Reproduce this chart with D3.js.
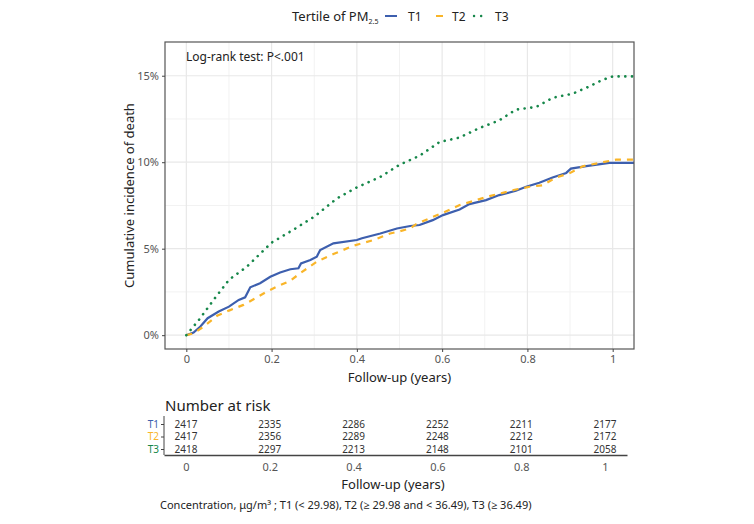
<!DOCTYPE html>
<html>
<head>
<meta charset="utf-8">
<script src="https://cdn.jsdelivr.net/npm/d3@7"></script>
<style>
  body { margin: 0; background: #fff; }
  text { font-family: "Noto Sans", "Open Sans", sans-serif; }
</style>
</head>
<body>
<svg id="chart" width="754" height="524"></svg>
<script>
// Groups and colours
const groups = ['T1', 'T2', 'T3'];
const groupColors = ['#3d5fae', '#f9b529', '#16874a'];

// Cumulative incidence (%): [years, percent]
const t1Curve = [
  [0, 0], [0.017, 0.15], [0.033, 0.5], [0.05, 0.98], [0.076, 1.37], [0.1, 1.65],
  [0.123, 2.04], [0.138, 2.19], [0.15, 2.77], [0.173, 3.0], [0.197, 3.38],
  [0.22, 3.62], [0.244, 3.81], [0.263, 3.87], [0.269, 4.15], [0.291, 4.35],
  [0.306, 4.54], [0.314, 4.92], [0.345, 5.31], [0.4, 5.5], [0.412, 5.6],
  [0.455, 5.88], [0.494, 6.17], [0.525, 6.31], [0.547, 6.37], [0.578, 6.65],
  [0.602, 6.94], [0.641, 7.27], [0.664, 7.58], [0.703, 7.81], [0.734, 8.1],
  [0.773, 8.35], [0.797, 8.58], [0.828, 8.81], [0.859, 9.12], [0.891, 9.38],
  [0.902, 9.63], [0.938, 9.77], [0.992, 9.96], [1.05, 9.96]
];
const t2Curve = [
  [0, 0], [0.017, 0.1], [0.041, 0.5], [0.072, 1.12], [0.1, 1.42], [0.134, 1.75],
  [0.166, 2.19], [0.189, 2.52], [0.213, 2.81], [0.244, 3.15], [0.267, 3.58],
  [0.306, 4.25], [0.345, 4.69], [0.392, 5.17], [0.439, 5.5], [0.478, 5.88],
  [0.5, 6.0], [0.525, 6.17], [0.539, 6.42], [0.57, 6.75], [0.602, 7.08],
  [0.641, 7.52], [0.68, 7.81], [0.711, 8.04], [0.742, 8.23], [0.773, 8.42],
  [0.805, 8.58], [0.836, 8.67], [0.867, 9.12], [0.898, 9.35], [0.93, 9.77],
  [0.969, 9.96], [1.008, 10.15], [1.05, 10.15]
];
const t3Curve = [
  [0, 0], [0.03, 0.9], [0.064, 2.04], [0.1, 3.2], [0.142, 3.96], [0.2, 5.35],
  [0.25, 6.08], [0.3, 6.85], [0.353, 7.9], [0.4, 8.54], [0.455, 9.15],
  [0.5, 9.85], [0.547, 10.37], [0.594, 11.17], [0.64, 11.42], [0.688, 11.98],
  [0.734, 12.42], [0.773, 13.04], [0.82, 13.19], [0.86, 13.73], [0.906, 13.96],
  [0.938, 14.3], [0.977, 14.77], [1.0, 14.96], [1.05, 14.96]
];

// Ticks
const xTicks = [0, 0.2, 0.4, 0.6, 0.8, 1];
const xMinor = [0.1, 0.3, 0.5, 0.7, 0.9];
const yTicks = [0, 5, 10, 15];
const yMinor = [2.5, 7.5, 12.5];

// Number at risk table
const riskTimes = [0, 0.2, 0.4, 0.6, 0.8, 1];
const riskT1 = [2417, 2335, 2286, 2252, 2211, 2177];
const riskT2 = [2417, 2356, 2289, 2248, 2212, 2172];
const riskT3 = [2418, 2297, 2213, 2148, 2101, 2058];

const svg = d3.select('#chart');

// Panel
const panel = { left: 165, right: 634, top: 42, bottom: 349 };
const x = d3.scaleLinear().domain([-0.05, 1.05]).range([panel.left, panel.right]);
const y = d3.scaleLinear().domain([-0.8, 16.95]).range([panel.bottom, panel.top]);

const plot = svg.append('g');

// grid lines
plot.selectAll('.vminor').data(xMinor).enter().append('line')
  .attr('x1', d => x(d)).attr('x2', d => x(d))
  .attr('y1', panel.top).attr('y2', panel.bottom)
  .attr('stroke', '#f2f2f2').attr('stroke-width', 1);
plot.selectAll('.hminor').data(yMinor).enter().append('line')
  .attr('x1', panel.left).attr('x2', panel.right)
  .attr('y1', d => y(d)).attr('y2', d => y(d))
  .attr('stroke', '#f2f2f2').attr('stroke-width', 1);
plot.selectAll('.vmajor').data(xTicks).enter().append('line')
  .attr('x1', d => x(d)).attr('x2', d => x(d))
  .attr('y1', panel.top).attr('y2', panel.bottom)
  .attr('stroke', '#e8e8e8').attr('stroke-width', 1.2);
plot.selectAll('.hmajor').data(yTicks).enter().append('line')
  .attr('x1', panel.left).attr('x2', panel.right)
  .attr('y1', d => y(d)).attr('y2', d => y(d))
  .attr('stroke', '#e8e8e8').attr('stroke-width', 1.2);

// curves
const clip = svg.append('defs').append('clipPath').attr('id', 'panelClip');
clip.append('rect')
  .attr('x', panel.left).attr('y', panel.top)
  .attr('width', panel.right - panel.left).attr('height', panel.bottom - panel.top);

const line = d3.line()
  .x(d => x(d[0]))
  .y(d => y(d[1]));

const curves = [t1Curve, t2Curve, t3Curve];
const dashes = [null, '6 6', '0.1 6.6'];
const widths = [2.2, 2.2, 2.6];

curves.forEach((c, i) => {
  const p = plot.append('path')
    .datum(c)
    .attr('clip-path', 'url(#panelClip)')
    .attr('fill', 'none')
    .attr('stroke', groupColors[i])
    .attr('stroke-width', widths[i])
    .attr('stroke-linecap', i === 2 ? 'round' : 'butt')
    .attr('d', line);
  if (dashes[i]) p.attr('stroke-dasharray', dashes[i]);
});

// panel border
plot.append('rect')
  .attr('x', panel.left).attr('y', panel.top)
  .attr('width', panel.right - panel.left).attr('height', panel.bottom - panel.top)
  .attr('fill', 'none').attr('stroke', '#555').attr('stroke-width', 1.2);

// axes
const yAxis = plot.append('g')
  .attr('transform', `translate(${panel.left},0)`)
  .call(d3.axisLeft(y).tickValues(yTicks).tickSize(3).tickPadding(3)
    .tickFormat(d => d + '%'));
const xAxis = plot.append('g')
  .attr('transform', `translate(0,${panel.bottom})`)
  .call(d3.axisBottom(x).tickValues(xTicks).tickSize(3).tickPadding(3)
    .tickFormat(d3.format('~g')));

[xAxis, yAxis].forEach(a => {
  a.select('.domain').remove();
  a.selectAll('.tick line').attr('stroke', '#444');
  a.selectAll('.tick text')
    .attr('fill', '#555')
    .attr('font-size', '11px')
    .style('font-family', '"Noto Sans", sans-serif');
});

// axis titles
svg.append('text')
  .attr('x', (panel.left + panel.right) / 2)
  .attr('y', 382)
  .attr('text-anchor', 'middle')
  .attr('font-size', '13px')
  .attr('fill', '#222')
  .text('Follow-up (years)');

svg.append('text')
  .attr('transform', `translate(134,${(panel.top + panel.bottom) / 2}) rotate(-90)`)
  .attr('text-anchor', 'middle')
  .attr('font-size', '13px')
  .attr('fill', '#222')
  .text('Cumulative incidence of death');

// log-rank annotation
svg.append('text')
  .attr('x', 186)
  .attr('y', 61)
  .attr('font-size', '12px')
  .attr('fill', '#222')
  .text('Log-rank test: P<.001');

// legend
const legend = svg.append('g');
const legendTitle = legend.append('text')
  .attr('x', 292)
  .attr('y', 21)
  .attr('font-size', '13px')
  .attr('fill', '#222');
legendTitle.append('tspan').text('Tertile of PM');
legendTitle.append('tspan').attr('font-size', '7px').attr('dy', 3).text('2.5');

const legendKeys = [
  { x1: 385, x2: 397, tx: 408 },
  { x1: 436, x2: 443, tx: 452 },
  { x1: 474, x2: 482, tx: 495 }
];
groups.forEach((g, i) => {
  const k = legendKeys[i];
  const l = legend.append('line')
    .attr('x1', k.x1).attr('x2', k.x2)
    .attr('y1', 16).attr('y2', 16)
    .attr('stroke', groupColors[i])
    .attr('stroke-width', i === 2 ? 2.4 : 2)
    .attr('stroke-linecap', i === 2 ? 'round' : 'butt');
  if (i === 2) l.attr('stroke-dasharray', '0.1 7');
  legend.append('text')
    .attr('x', k.tx)
    .attr('y', 20.5)
    .attr('font-size', '12px')
    .attr('fill', '#222')
    .text(g);
});

// Number at risk table
const tx = d3.scaleLinear().domain([-0.0525, 1.0525]).range([164, 627]);
const rowY = d3.scalePoint().domain(groups).range([424, 449]);
const riskRows = [riskT1, riskT2, riskT3];

svg.append('text')
  .attr('x', 165)
  .attr('y', 411)
  .attr('font-size', '15px')
  .attr('fill', '#222')
  .text('Number at risk');

const table = svg.append('g');
riskRows.forEach((row, i) => {
  table.selectAll(null).data(row).enter().append('text')
    .attr('x', (d, j) => tx(riskTimes[j]))
    .attr('y', rowY(groups[i]))
    .attr('dy', '0.35em')
    .attr('text-anchor', 'middle')
    .attr('font-size', '10px')
    .attr('fill', '#333')
    .text(d => d);
});

const tableY = table.append('g')
  .attr('transform', 'translate(164,0)')
  .call(d3.axisLeft(rowY).tickSize(3).tickPadding(2));
tableY.select('.domain').attr('d', 'M0,416V455').attr('stroke', '#444');
tableY.selectAll('.tick line').attr('stroke', '#444');
tableY.selectAll('.tick text')
  .attr('fill', (d, i) => groupColors[i])
  .attr('font-size', '10px')
  .style('font-family', '"Noto Sans", sans-serif');

const tableX = table.append('g')
  .attr('transform', 'translate(0,455)')
  .call(d3.axisBottom(tx).tickValues(riskTimes).tickSize(0).tickPadding(8)
    .tickFormat(d3.format('~g')));
tableX.select('.domain').attr('stroke', '#444').attr('stroke-width', 1.5);
tableX.selectAll('.tick text')
  .attr('fill', '#555')
  .attr('font-size', '11px')
  .style('font-family', '"Noto Sans", sans-serif');

svg.append('text')
  .attr('x', 393)
  .attr('y', 489)
  .attr('text-anchor', 'middle')
  .attr('font-size', '13px')
  .attr('fill', '#222')
  .text('Follow-up (years)');

// caption
svg.append('text')
  .attr('x', 160)
  .attr('y', 509)
  .attr('font-size', '11px')
  .attr('fill', '#222')
  .text('Concentration, μg/m³ ; T1 (< 29.98), T2 (≥ 29.98 and < 36.49), T3 (≥ 36.49)');
</script>
</body>
</html>
